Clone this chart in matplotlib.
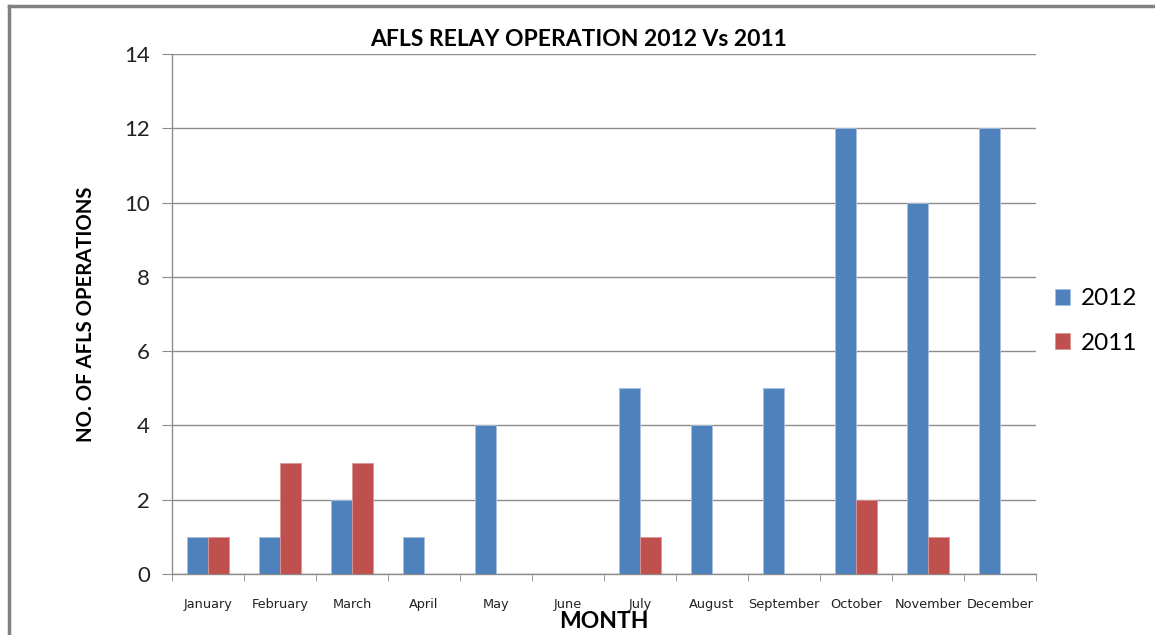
import matplotlib
matplotlib.use("Agg")
import matplotlib.pyplot as plt
import numpy as np
from matplotlib.lines import Line2D

months = ["January", "February", "March", "April", "May", "June", "July",
          "August", "September", "October", "November", "December"]
ops_2012 = [1, 1, 2, 1, 4, 0, 5, 4, 5, 12, 10, 12]
ops_2011 = [1, 3, 3, 0, 0, 0, 1, 0, 0, 2, 1, 0]
series_names = ["2012", "2011"]
y_ticks = [0, 2, 4, 6, 8, 10, 12, 14]

blue = "#4F81BD"
red = "#C0504D"
grid_c = "#8C8C8C"

fig = plt.figure(figsize=(11.55, 6.35), dpi=100)
ax = fig.add_axes([172/1155, 61/635, 864/1155, 520/635])

x = np.arange(len(months))
w = 0.285
b1 = ax.bar(x - w/2, ops_2012, w, color=blue, edgecolor="#A7C0DE", linewidth=0.6, label=series_names[0], zorder=3)
b2 = ax.bar(x + w/2, ops_2011, w, color=red, edgecolor="#D99694", linewidth=0.6, label=series_names[1], zorder=3)

ax.set_xlim(-0.5, len(months) - 0.5)
ax.set_ylim(0, 14)
ax.set_yticks(y_ticks)
ax.set_yticklabels([str(v) for v in y_ticks], fontsize=16, family="Lato", color="#222222")
ax.yaxis.grid(True, color=grid_c, linewidth=1, zorder=0)
ax.set_axisbelow(True)

ax.set_xticks(x)
ax.set_xticklabels(months, fontsize=9.3, family="DejaVu Sans", color="#222222")
ax.tick_params(axis="x", length=0, pad=17)
ax.set_xticks(np.arange(-0.5, len(months), 1), minor=True)
ax.tick_params(axis="x", which="minor", length=5, color=grid_c, direction="out")
ax.tick_params(axis="y", length=7, color=grid_c, direction="out", pad=9)

for s in ["top", "right"]:
    ax.spines[s].set_visible(False)
for s in ["left", "bottom"]:
    ax.spines[s].set_color(grid_c)
    ax.spines[s].set_linewidth(1)

fig.text(579/1155, 1 - 40/635, "AFLS RELAY OPERATION 2012 Vs 2011", fontsize=16.5,
         fontweight="bold", family="Lato", ha="center", va="center")
ax.set_ylabel("NO. OF AFLS OPERATIONS", fontsize=14.6, fontweight="bold", family="Lato", labelpad=20)
ax.set_xlabel("MONTH", fontsize=16.5, fontweight="bold", family="Lato", labelpad=0)

leg = fig.legend(handles=[b1, b2], labels=series_names, loc="center left",
                 bbox_to_anchor=(1033/1155, 1 - 321/635), frameon=False,
                 prop={"family": "Lato", "size": 17.5}, handlelength=0.62, handleheight=0.62,
                 labelspacing=0.95, handletextpad=0.45)

fig.add_artist(Line2D([9/1155, 1], [1 - 6/635, 1 - 6/635], color="#808080", linewidth=2.5, transform=fig.transFigure))
fig.add_artist(Line2D([9/1155, 9/1155], [0, 1 - 6/635], color="#808080", linewidth=2.5, transform=fig.transFigure))

fig.savefig("out.png", dpi=100)
